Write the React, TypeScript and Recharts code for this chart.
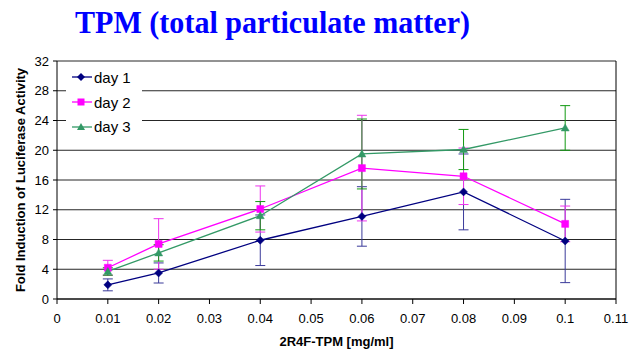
import React from 'react';
import {
  LineChart,
  Line,
  XAxis,
  YAxis,
  CartesianGrid,
  ErrorBar,
  Legend,
  ReferenceLine,
} from 'recharts';

// concentrations of 2R4F-TPM (mg/ml)
const doses = [0.01, 0.02, 0.04, 0.06, 0.08, 0.1];

// fold induction per day, with +/- error
const day1 = [1.9, 3.5, 7.9, 11.1, 14.4, 7.8];
const day1Err = [0.8, 1.35, 3.4, 4.0, 5.1, 5.6];
const day2 = [4.2, 7.4, 12.1, 17.6, 16.5, 10.1];
const day2Err = [1.0, 3.4, 3.1, 7.1, 3.8, 2.4];
const day3 = [3.7, 6.2, 11.2, 19.5, 20.1, 23.0];
const day3Err = [0.5, 1.1, 1.9, 4.7, 2.7, 3.0];

const xTicks = [0, 0.01, 0.02, 0.03, 0.04, 0.05, 0.06, 0.07, 0.08, 0.09, 0.1, 0.11];
const yTicks = [0, 4, 8, 12, 16, 20, 24, 28, 32];

const data = doses.map((x, i) => ({
  x,
  d1: day1[i],
  e1: day1Err[i],
  d2: day2[i],
  e2: day2Err[i],
  d3: day3[i],
  e3: day3Err[i],
}));

const SANS = '"Liberation Sans", Arial, sans-serif';

const NAVY = '#000080';
const MAGENTA = '#FF00FF';
const GREEN = '#339966';

type Shape = 'diamond' | 'square' | 'triangle';

const markerPath = (shape: Shape, cx: number, cy: number) => {
  if (shape === 'diamond') return `M${cx},${cy - 4}L${cx + 4},${cy}L${cx},${cy + 4}L${cx - 4},${cy}Z`;
  if (shape === 'square') return `M${cx - 3.5},${cy - 3.5}h7v7h-7Z`;
  return `M${cx},${cy - 4}L${cx + 4},${cy + 3}L${cx - 4},${cy + 3}Z`;
};

const makeDot = (shape: Shape, color: string) => (props: any) => {
  const { cx, cy, index } = props;
  if (cx == null || cy == null) return <g key={index} />;
  return <path key={index} d={markerPath(shape, cx, cy)} fill={color} stroke={color} strokeWidth={0.5} />;
};

const series = [
  { key: 'd1', err: 'e1', name: 'day 1', color: NAVY, errColor: '#3a3a9a', shape: 'diamond' as Shape },
  { key: 'd2', err: 'e2', name: 'day 2', color: MAGENTA, errColor: '#ee33ee', shape: 'square' as Shape },
  { key: 'd3', err: 'e3', name: 'day 3', color: GREEN, errColor: '#119911', shape: 'triangle' as Shape },
];

const LegendBox = () => (
  <div style={{ paddingTop: 1, fontFamily: SANS, fontSize: 15, color: '#000' }}>
    {series.map((s) => (
      <div key={s.key} style={{ height: 24.7, display: 'flex', alignItems: 'center' }}>
        <svg width={22} height={10} style={{ marginLeft: 6 }}>
          <line x1={0} y1={5} x2={20} y2={5} stroke={s.color} strokeWidth={1.3} />
          <path d={markerPath(s.shape, 9, 5)} fill={s.color} />
        </svg>
        <span>{s.name}</span>
      </div>
    ))}
  </div>
);

export default function App() {
  return (
    <div style={{ position: 'absolute', left: 0, top: 0, width: 629, height: 350, background: '#fff' }}>
      <svg width={629} height={50} style={{ position: 'absolute', left: 0, top: 0 }}>
        <text
          x={75}
          y={33}
          fill="#0000FF"
          fontFamily='"Liberation Serif", "Times New Roman", serif'
          fontWeight="bold"
          fontSize={32}
          textLength={395}
          lengthAdjust="spacingAndGlyphs"
        >
          TPM (total particulate matter)
        </text>
      </svg>
      <LineChart width={629} height={350} data={data} margin={{ top: 61, right: 13, bottom: 0, left: 0 }}>
        <CartesianGrid vertical={false} stroke="#000" strokeOpacity={0.85} />
        <XAxis
          dataKey="x"
          type="number"
          domain={[0, 0.11]}
          ticks={xTicks}
          tickFormatter={(v) => String(v)}
          height={51}
          stroke="#000"
          tickSize={5}
          tickMargin={10}
          tick={{ fill: '#000', fontSize: 13, fontFamily: SANS }}
          label={{ value: '2R4F-TPM [mg/ml]', position: 'insideBottom', offset: 4, fill: '#000', fontSize: 13, fontWeight: 'bold', fontFamily: SANS }}
        />
        <YAxis
          type="number"
          domain={[0, 32]}
          ticks={yTicks}
          width={57}
          stroke="#000"
          tickSize={4}
          tickMargin={4}
          tick={{ fill: '#000', fontSize: 13, fontFamily: SANS }}
          label={{ value: 'Fold Induction of Luciferase Activity', angle: -90, position: 'insideLeft', offset: 20, textAnchor: 'middle', fill: '#000', fontSize: 13, fontWeight: 'bold', fontFamily: SANS }}
        />
        <ReferenceLine x={0.11} stroke="#000" />
        {series.map((s) => (
          <Line
            key={s.key}
            dataKey={s.key}
            name={s.name}
            type="linear"
            stroke={s.color}
            strokeWidth={1.3}
            dot={makeDot(s.shape, s.color)}
            activeDot={false}
            isAnimationActive={false}
          >
            <ErrorBar dataKey={s.err} direction="y" width={5} stroke={s.errColor} strokeWidth={1} />
          </Line>
        ))}
        <Legend
          layout="vertical"
          align="center"
          verticalAlign="middle"
          content={() => <LegendBox />}
          wrapperStyle={{ left: 66, top: 64, width: 76, height: 75, background: '#fff' }}
        />
      </LineChart>
    </div>
  );
}
